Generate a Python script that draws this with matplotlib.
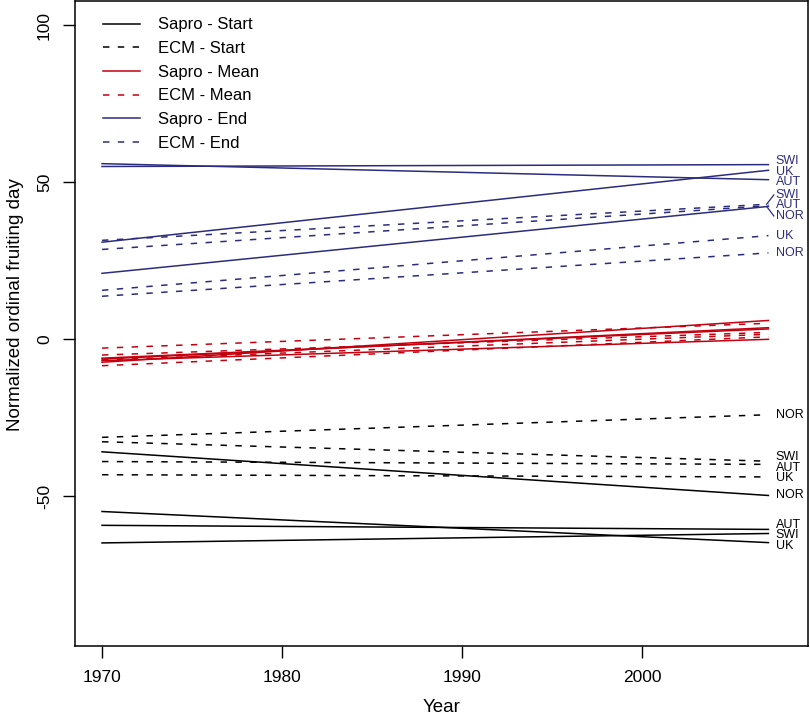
import numpy as np
import matplotlib
matplotlib.use("Agg")
import matplotlib.pyplot as plt
from matplotlib.lines import Line2D

plt.rcParams['font.family'] = ['Liberation Sans', 'DejaVu Sans']
plt.rcParams['axes.unicode_minus'] = False

# years spanned by each fitted trend line
years = [1970, 2007]
countries = ['AUT', 'NOR', 'SWI', 'UK']

# fitted values (normalized ordinal fruiting day) at 1970 and 2007
sapro_start_1970 = [-59.2, -35.8, -64.8, -54.8]
sapro_start_2007 = [-60.5, -49.7, -61.8, -64.7]
ecm_start_1970 = [-38.9, -31.2, -32.6, -43.1]
ecm_start_2007 = [-39.8, -24.0, -38.8, -43.8]

sapro_mean_1970 = [-6.3, -6.8, -7.3, -6.0]
sapro_mean_2007 = [3.7, 0.0, 6.0, 3.3]
ecm_mean_1970 = [-5.0, -8.4, -2.8, -6.6]
ecm_mean_2007 = [2.2, 0.8, 5.1, 1.6]

sapro_end_1970 = [55.9, 21.0, 55.0, 30.9]
sapro_end_2007 = [50.8, 42.3, 55.6, 53.8]
ecm_end_1970 = [28.6, 13.7, 31.5, 15.6]
ecm_end_2007 = [42.5, 27.5, 43.0, 33.0]

BLACK = 'black'
RED = '#C4000F'
NAVY = '#2C2C7E'
DASH = (0, (4.2, 5.5))

series = [
    ('Sapro - Start', sapro_start_1970, sapro_start_2007, BLACK, '-', True),
    ('ECM - Start', ecm_start_1970, ecm_start_2007, BLACK, DASH, True),
    ('Sapro - Mean', sapro_mean_1970, sapro_mean_2007, RED, '-', False),
    ('ECM - Mean', ecm_mean_1970, ecm_mean_2007, RED, DASH, False),
    ('Sapro - End', sapro_end_1970, sapro_end_2007, NAVY, '-', True),
    ('ECM - End', ecm_end_1970, ecm_end_2007, NAVY, DASH, True),
]


def spread(values, gap):
    # push label positions apart so they don't overlap
    order = np.argsort(values)[::-1]
    pos = np.array(values, dtype=float)[order]
    clusters = [[i] for i in range(len(pos))]
    centers = list(pos)
    changed = True
    while changed:
        changed = False
        placed = []
        for c, m in zip(clusters, centers):
            n = len(c)
            placed.append([m + ((n - 1) / 2 - k) * gap for k in range(n)])
        for i in range(len(clusters) - 1):
            if placed[i][-1] - placed[i + 1][0] < gap - 1e-9:
                merged = clusters[i] + clusters[i + 1]
                centers[i] = np.mean(pos[merged])
                clusters[i] = merged
                del clusters[i + 1]
                del centers[i + 1]
                changed = True
                break
    out = np.empty(len(pos))
    for c, m in zip(clusters, centers):
        n = len(c)
        for k, idx in enumerate(c):
            out[order[idx]] = m + ((n - 1) / 2 - k) * gap
    return out


fig = plt.figure(figsize=(8.1, 7.18), dpi=100)
ax = fig.add_axes([0.0926, 0.1003, 0.905, 0.898])

lab_vals, lab_txt, lab_col = [], [], []
for name, v0, v1, col, ls, labelled in series:
    for c, a, b in zip(countries, v0, v1):
        ax.plot(years, [a, b], color=col, linestyle=ls, lw=1.1)
        if labelled:
            lab_vals.append(b)
            lab_txt.append(c)
            lab_col.append(col)

lab_pos = spread(lab_vals, 3.35)
for v, p, t, col in zip(lab_vals, lab_pos, lab_txt, lab_col):
    if abs(p - v) > 2.5:
        ax.plot([years[1] - 0.1, years[1] + 0.3], [v, p], color=col, lw=0.9)
    ax.text(years[1] + 0.4, p, t, color=col, fontsize=9, va='center', ha='left')

handles = [Line2D([], [], color=s[3], linestyle=s[4], lw=1.1) for s in series]
ax.legend(handles, [s[0] for s in series], loc='upper left',
          bbox_to_anchor=(0.038, 0.975), frameon=False, fontsize=12,
          borderpad=0, borderaxespad=0, handlelength=2.2,
          handletextpad=1.1, labelspacing=0.52)

ax.set_xlim(1968.5, 2009.2)
ax.set_ylim(-97.6, 107.6)
ax.set_xticks([1970, 1980, 1990, 2000])
ax.set_yticks([-50, 0, 50, 100])
ax.tick_params(direction='out', length=8.5, width=1, labelsize=12.5, pad=8)
ax.tick_params(axis='x', pad=9)
ax.tick_params(axis='y', labelrotation=90)
for lab in ax.get_yticklabels():
    lab.set_va('center')
for sp in ax.spines.values():
    sp.set_linewidth(1.1)

ax.set_xlabel('Year', fontsize=13.5, labelpad=10)
ax.set_ylabel('Normalized ordinal fruiting day', fontsize=13.5, labelpad=8)
ax.yaxis.set_label_coords(-0.07, 0.53)

fig.savefig('out.png', dpi=100)
